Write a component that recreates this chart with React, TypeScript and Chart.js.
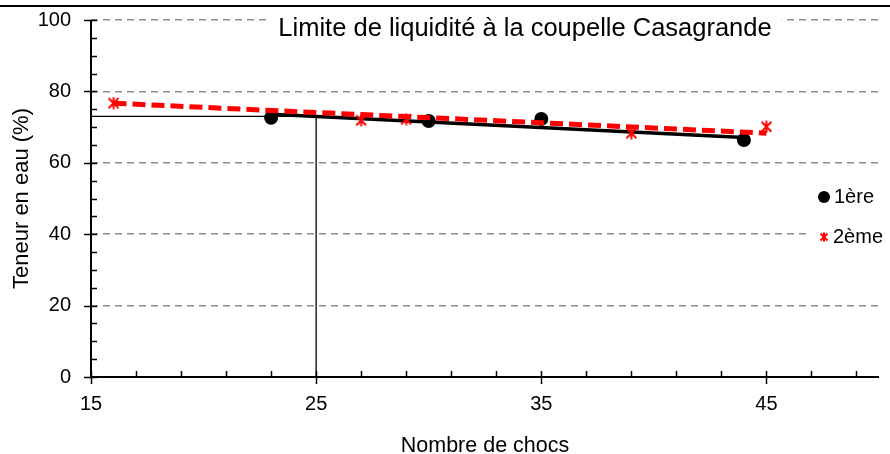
import React, { useEffect, useRef } from "react";
import { Chart, registerables } from "chart.js";

Chart.register(...registerables);

// ---- Data ----
const chartTitle = "Limite de liquidité à la coupelle Casagrande";
const xAxisTitle = "Nombre de chocs";
const yAxisTitle = "Teneur en eau (%)";
const series1Name = "1ère";
const series2Name = "2ème";

const series1X = [23, 30, 35, 44];
const series1Y = [72.6, 71.7, 72.3, 66.4];

const series2X = [16, 27, 29, 39, 45];
const series2Y = [76.7, 71.9, 72.2, 68.3, 70.1];

// linear trend lines (end points)
const trend1X = [23, 44];
const trend1Y = [73.6, 67.1];
const trend2X = [16, 45];
const trend2Y = [76.7, 68.3];

// liquid limit reading at 25 blows
const guideX = [15, 25, 25];
const guideY = [73, 73, 0];

const xMin = 15;
const xMax = 50;
const xMinorStep = 2;
const xTickLabels = [15, 25, 35, 45];
const yMin = 0;
const yMax = 100;
const yMinorStep = 5;
const yTickLabels = [0, 20, 40, 60, 80, 100];

const FONT = "Arial, 'Liberation Sans', sans-serif";

function zip(xs: number[], ys: number[]) {
  return xs.map((x, i) => ({ x, y: ys[i] }));
}

function makeStar(size: number, color: string, lw: number) {
  const c = document.createElement("canvas");
  c.width = size;
  c.height = size;
  const g = c.getContext("2d")!;
  g.strokeStyle = color;
  g.lineWidth = lw;
  const m = lw / 2 + 0.5;
  g.beginPath();
  g.moveTo(m, m);
  g.lineTo(size - m, size - m);
  g.moveTo(size - m, m);
  g.lineTo(m, size - m);
  g.moveTo(size / 2, 0.5);
  g.lineTo(size / 2, size - 0.5);
  g.stroke();
  return c;
}

export default function App() {
  const ref = useRef<HTMLCanvasElement | null>(null);

  useEffect(() => {
    document.body.style.margin = "0";
    const canvas = ref.current!;
    const star = makeStar(13, "#ff0000", 2);
    const starSmall = makeStar(10, "#ff0000", 2);

    const decorations = {
      id: "decorations",
      afterDraw(chart: any) {
        const ctx = chart.ctx as CanvasRenderingContext2D;
        const xs = chart.scales.x;
        const ys = chart.scales.y;
        const { left, right, top, bottom } = chart.chartArea;
        ctx.save();

        // top frame line
        ctx.fillStyle = "#000";
        ctx.fillRect(0, 5, chart.width, 2);

        // axes
        ctx.strokeStyle = "#000";
        ctx.lineWidth = 2;
        ctx.beginPath();
        ctx.moveTo(left, top);
        ctx.lineTo(left, bottom);
        ctx.moveTo(left - 1, bottom);
        ctx.lineTo(right, bottom);
        ctx.stroke();

        // y ticks
        ctx.lineWidth = 1.5;
        for (let v = yMin; v <= yMax; v += yMinorStep) {
          const y = Math.round(ys.getPixelForValue(v)) + 0.5;
          const major = yTickLabels.includes(v);
          ctx.beginPath();
          ctx.moveTo(major ? left - 7 : left, y);
          ctx.lineTo(left + 6, y);
          ctx.stroke();
        }
        // x ticks
        for (let v = xMin; v < xMax; v += xMinorStep) {
          const x = Math.round(xs.getPixelForValue(v)) + 0.5;
          const major = xTickLabels.includes(v);
          ctx.beginPath();
          ctx.moveTo(x, bottom - 6);
          ctx.lineTo(x, major ? bottom + 7 : bottom);
          ctx.stroke();
        }

        // chart title with white box
        ctx.font = `25.5px ${FONT}`;
        const tw = ctx.measureText(chartTitle).width;
        const cx = 525;
        ctx.fillStyle = "#fff";
        ctx.fillRect(cx - tw / 2 - 10, 9, tw + 20, 38);
        ctx.fillStyle = "#000";
        ctx.textAlign = "center";
        ctx.textBaseline = "middle";
        ctx.fillText(chartTitle, cx, 29);

        // legend
        ctx.fillStyle = "#fff";
        ctx.fillRect(808, 178, chart.width - 808, 76);
        ctx.fillStyle = "#000";
        ctx.beginPath();
        ctx.arc(824, 197, 6, 0, Math.PI * 2);
        ctx.fill();
        ctx.drawImage(starSmall, 824 - 5, 237 - 5);
        ctx.font = `20px ${FONT}`;
        ctx.textAlign = "left";
        ctx.fillStyle = "#000";
        ctx.fillText(series1Name, 834, 197);
        ctx.fillText(series2Name, 833, 237);

        ctx.restore();
      },
    };

    const chart = new Chart(canvas, {
      type: "scatter",
      data: {
        datasets: [
          {
            label: series2Name,
            data: zip(series2X, series2Y),
            pointStyle: star as any,
            pointRadius: 7,
            showLine: false,
            borderColor: "#ff0000",
            backgroundColor: "#ff0000",
          },
          {
            label: "trend2",
            data: zip(trend2X, trend2Y),
            showLine: true,
            borderColor: "#ff0000",
            borderWidth: 5,
            borderDash: [13, 6],
            pointRadius: 0,
          },
          {
            label: series1Name,
            data: zip(series1X, series1Y),
            pointStyle: "circle",
            pointRadius: 7,
            showLine: false,
            backgroundColor: "#000",
            borderColor: "#000",
            borderWidth: 0,
          },
          {
            label: "trend1",
            data: zip(trend1X, trend1Y),
            showLine: true,
            borderColor: "#000",
            borderWidth: 3.5,
            pointRadius: 0,
          },
          {
            label: "guide",
            data: zip(guideX, guideY),
            showLine: true,
            borderColor: "#000",
            borderWidth: 1.3,
            pointRadius: 0,
          },
        ] as any,
      },
      options: {
        animation: false,
        responsive: false,
        devicePixelRatio: 1,
        layout: { padding: { top: 20, right: 11, left: 0, bottom: 0 } },
        plugins: {
          legend: { display: false },
          tooltip: { enabled: false },
          title: { display: false },
        },
        scales: {
          x: {
            type: "linear",
            min: xMin,
            max: xMax,
            afterBuildTicks: (s: any) => {
              const t = [];
              for (let v = xMin; v < xMax; v += xMinorStep) t.push({ value: v });
              s.ticks = t;
            },
            afterFit: (s: any) => {
              s.height = 77;
              s.paddingLeft = 0;
              s.paddingRight = 0;
            },
            ticks: {
              autoSkip: false,
              maxRotation: 0,
              padding: 15,
              color: "#000",
              font: { family: FONT, size: 20 },
              callback: (v: any) => (xTickLabels.includes(Number(v)) ? String(v) : ""),
            },
            grid: { color: "transparent", drawTicks: false },
            border: { display: false },
            title: {
              display: true,
              text: xAxisTitle,
              color: "#000",
              font: { family: FONT, size: 21.5, lineHeight: 0.75 },
              padding: { top: 0, bottom: 0 },
            },
          },
          y: {
            type: "linear",
            min: yMin,
            max: yMax,
            afterBuildTicks: (s: any) => {
              const t = [];
              for (let v = yMin; v <= yMax; v += yMinorStep) t.push({ value: v });
              s.ticks = t;
            },
            afterFit: (s: any) => {
              s.width = 91;
              s.paddingTop = 0;
              s.paddingBottom = 0;
            },
            ticks: {
              autoSkip: false,
              padding: 20,
              color: "#000",
              font: { family: FONT, size: 20 },
              callback: (v: any) => (yTickLabels.includes(Number(v)) ? String(v) : ""),
            },
            grid: {
              drawTicks: false,
              lineWidth: 1.5,
              color: (c: any) =>
                c.tick && c.tick.value % 20 === 0 && c.tick.value !== 0 ? "#8c8c8c" : "transparent",
            },
            border: { display: false, dash: [7, 5] },
            title: {
              display: true,
              text: yAxisTitle,
              color: "#000",
              font: { family: FONT, size: 22, lineHeight: 1 },
              padding: { top: 11, bottom: 0 },
            },
          },
        },
      } as any,
      plugins: [decorations],
    });

    return () => chart.destroy();
  }, []);

  return (
    <div style={{ position: "fixed", left: 0, top: 0, width: 890, height: 454 }}>
      <canvas ref={ref} width={890} height={454} style={{ display: "block" }} />
    </div>
  );
}
